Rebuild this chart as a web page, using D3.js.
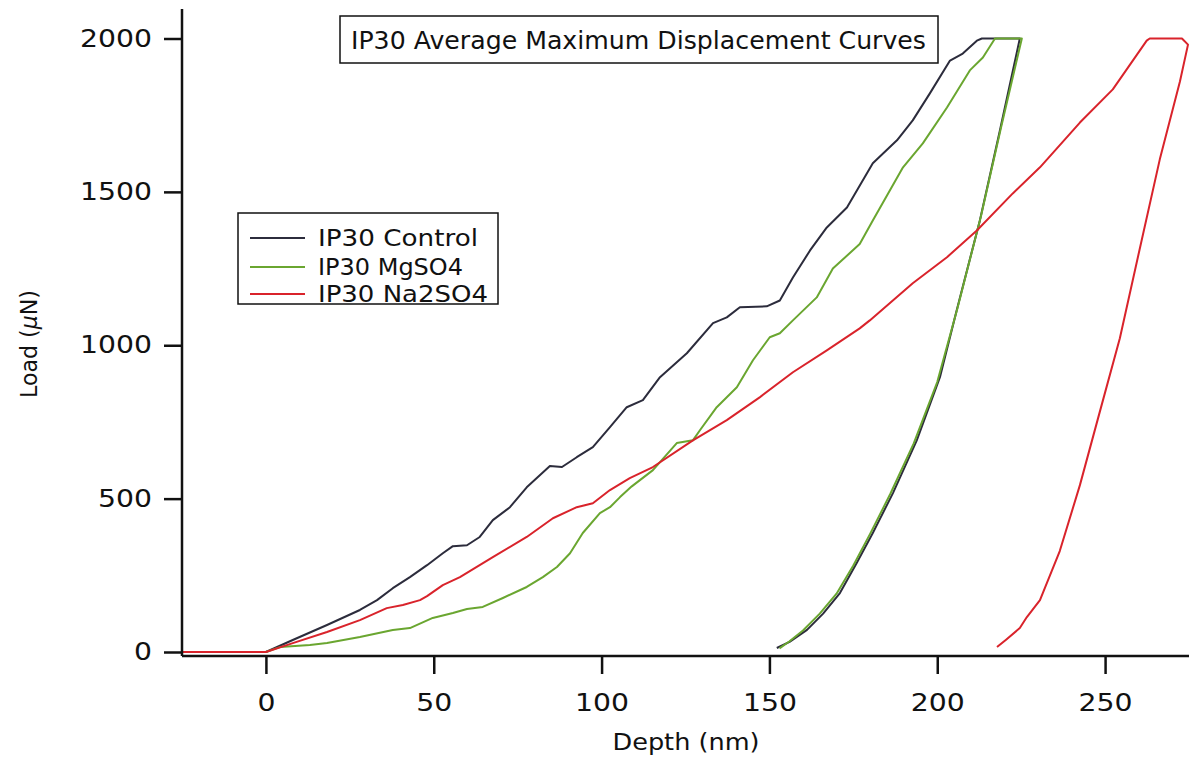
<!DOCTYPE html>
<html>
<head>
<meta charset="utf-8">
<script src="https://cdn.jsdelivr.net/npm/d3@7/dist/d3.min.js"></script>
<style>
  html, body { margin: 0; padding: 0; background: #fff; }
  svg { display: block; }
  text { font-family: "DejaVu Sans", sans-serif; fill: #111; }
</style>
</head>
<body>
<svg id="chart" width="1189" height="757"></svg>
<script>
// ---- data (depth in nm, load in µN) ----
const controlDepth = [-25, 0, 8.0, 18.2, 28.0, 33.1, 37.8, 42.9, 48.0, 52.7, 55.7, 59.9, 63.7, 67.6, 72.7, 77.7, 80.7, 84.6, 88.2, 92.6, 97.4, 102.5, 107.5, 112.3, 117.4, 125.4, 133.2, 137.3, 141.2, 149.2, 153.1, 157.0, 162.1, 167.1, 173.1, 180.8, 188.0, 192.7, 197.8, 203.8, 207.6, 211.8, 213.3, 224.6,
  218.6, 212.7, 205.8, 200.8, 193.9, 186.8, 180.8, 176.0, 171.0, 166.0, 161.2, 156.0, 152.2];
const controlLoad = [0, 0, 39, 88, 137, 169, 208, 244, 283, 322, 345, 348, 375, 430, 472, 537, 567, 606, 603, 635, 668, 733, 798, 821, 896, 974, 1072, 1091, 1124, 1127, 1146, 1221, 1309, 1384, 1449, 1593, 1668, 1733, 1821, 1928, 1951, 1993, 2000, 2000,
  1697, 1407, 1114, 896, 690, 518, 388, 290, 192, 125, 72, 33, 13];

const mgDepth = [-25, 0, 4.2, 13.1, 18.2, 28.0, 37.8, 42.9, 49.7, 55.7, 59.9, 64.6, 70.6, 77.7, 82.5, 86.7, 90.6, 94.4, 99.5, 102.5, 105.5, 109.0, 115.3, 122.4, 127.2, 129.3, 134.3, 140.3, 145.1, 150.1, 153.1, 157.0, 164.1, 168.9, 176.9, 180.8, 189.8, 195.7, 202.9, 209.7, 213.6, 217.2, 225.2,
  219.0, 213.0, 206.0, 200.0, 193.0, 186.0, 180.0, 175.0, 170.0, 165.0, 160.0, 156.0, 153.0];
const mgLoad = [0, 0, 16, 23, 29, 49, 72, 78, 111, 127, 140, 147, 176, 212, 244, 277, 322, 388, 453, 472, 505, 540, 593, 681, 690, 723, 798, 863, 951, 1026, 1039, 1081, 1156, 1250, 1330, 1407, 1580, 1658, 1775, 1896, 1938, 2000, 2000,
  1710, 1420, 1120, 880, 680, 515, 385, 282, 190, 125, 70, 35, 12];

const naDepth = [-25, 0, 8.0, 18.2, 28.0, 36.0, 40.8, 45.9, 48.0, 52.7, 57.8, 67.6, 77.7, 85.5, 92.6, 97.4, 102.5, 108.4, 115.3, 127.2, 137.3, 147.2, 157.0, 167.1, 176.9, 179.9, 192.7, 202.9, 211.8, 222.5, 230.6, 242.5, 252.3, 262.4, 263.3, 272.9,
  274.7, 272.3, 266.3, 260.3, 254.4, 248.4, 242.5, 236.5, 230.6, 226.7, 224.6, 220.5, 217.8];
const naLoad = [0, 0, 29, 65, 104, 143, 153, 169, 182, 218, 244, 309, 375, 436, 472, 485, 528, 567, 603, 690, 756, 831, 912, 983, 1055, 1081, 1202, 1287, 1374, 1495, 1580, 1726, 1834, 1993, 2000, 2000,
  1980, 1860, 1606, 1313, 1023, 782, 544, 329, 169, 114, 78, 40, 16];

const seriesNames = ["IP30 Control", "IP30 MgSO4", "IP30 Na2SO4"];
const seriesColors = ["#2c2c3c", "#6aa630", "#d9232b"];
const xTicks = [0, 50, 100, 150, 200, 250];
const yTicks = [0, 500, 1000, 1500, 2000];
const titleText = "IP30 Average Maximum Displacement Curves";
const xLabel = "Depth (nm)";

// ---- drawing ----
const svg = d3.select("#chart");
const x = d3.scaleLinear().domain([-25, 275]).range([182, 1189]);
const y = d3.scaleLinear().domain([0, 2000]).range([652, 38.5]);
const axisY = 656;
const topY = 9;
const digitW = 18;

svg.append("defs").append("clipPath").attr("id", "clip")
  .append("rect").attr("x", 182).attr("y", 0).attr("width", 1189 - 182).attr("height", axisY);

const series = [
  {d: controlDepth, l: controlLoad},
  {d: mgDepth, l: mgLoad},
  {d: naDepth, l: naLoad}
];
const line = d3.line().x(p => x(p[0])).y(p => y(p[1]));
const g = svg.append("g").attr("clip-path", "url(#clip)");
[0, 1, 2].forEach(i => {
  const s = series[i];
  const pts = s.d.map((v, k) => [v, s.l[k]]);
  g.append("path").attr("d", line(pts))
    .attr("fill", "none").attr("stroke", seriesColors[i])
    .attr("stroke-width", 2).attr("stroke-linejoin", "round");
});

// x axis
const xAxis = d3.axisBottom(x).tickValues(xTicks).tickSize(18).tickPadding(20).tickFormat(d3.format("d"));
const xg = svg.append("g").attr("transform", `translate(0,${axisY})`).call(xAxis);
xg.select(".domain").remove();
xg.append("line").attr("x1", 182).attr("x2", 1189).attr("y1", 0).attr("y2", 0)
  .attr("stroke", "#111").attr("stroke-width", 2.5);
xg.selectAll(".tick line").attr("stroke", "#111").attr("stroke-width", 2.5);
xg.selectAll(".tick text").attr("font-size", 24).attr("fill", "#111")
  .style("font-family", "'DejaVu Sans', sans-serif")
  .attr("textLength", d => String(d).length * digitW).attr("lengthAdjust", "spacingAndGlyphs");

// y axis
const yAxis = d3.axisLeft(y).tickValues(yTicks).tickSize(18).tickPadding(12).tickFormat(d3.format("d"));
const yg = svg.append("g").attr("transform", `translate(182,0)`).call(yAxis);
yg.select(".domain").remove();
yg.append("line").attr("x1", 0).attr("x2", 0).attr("y1", topY).attr("y2", axisY)
  .attr("stroke", "#111").attr("stroke-width", 2.5);
yg.selectAll(".tick line").attr("stroke", "#111").attr("stroke-width", 2.5);
yg.selectAll(".tick text").attr("font-size", 24).attr("fill", "#111")
  .style("font-family", "'DejaVu Sans', sans-serif")
  .attr("textLength", d => String(d).length * digitW).attr("lengthAdjust", "spacingAndGlyphs");

// axis labels
svg.append("text").attr("x", 686).attr("y", 750).attr("text-anchor", "middle")
  .attr("font-size", 23).attr("textLength", 147).attr("lengthAdjust", "spacingAndGlyphs").text(xLabel);
const yl = svg.append("text").attr("transform", "translate(37,344) rotate(-90)")
  .attr("text-anchor", "middle").attr("font-size", 23)
  .attr("textLength", 108).attr("lengthAdjust", "spacingAndGlyphs");
yl.append("tspan").text("Load (");
yl.append("tspan").attr("font-style", "italic").text("µ");
yl.append("tspan").text("N)");

// title box
svg.append("rect").attr("x", 340).attr("y", 16).attr("width", 598).attr("height", 47)
  .attr("fill", "#fff").attr("stroke", "#111").attr("stroke-width", 1.5);
svg.append("text").attr("x", 351).attr("y", 49).attr("font-size", 24)
  .attr("textLength", 575).attr("lengthAdjust", "spacingAndGlyphs").text(titleText);

// legend
const lg = svg.append("g");
lg.append("rect").attr("x", 238).attr("y", 213).attr("width", 260).attr("height", 91)
  .attr("fill", "#fff").attr("stroke", "#111").attr("stroke-width", 1.5);
const rowsY = [238, 267, 294];
const legendW = [160, 145, 170];
seriesNames.forEach((n, i) => {
  lg.append("line").attr("x1", 250).attr("x2", 305).attr("y1", rowsY[i]).attr("y2", rowsY[i])
    .attr("stroke", seriesColors[i]).attr("stroke-width", 2);
  lg.append("text").attr("x", 318).attr("y", rowsY[i]).attr("dy", "0.36em")
    .attr("font-size", 23).attr("textLength", legendW[i]).attr("lengthAdjust", "spacingAndGlyphs").text(n);
});
</script>
</body>
</html>
